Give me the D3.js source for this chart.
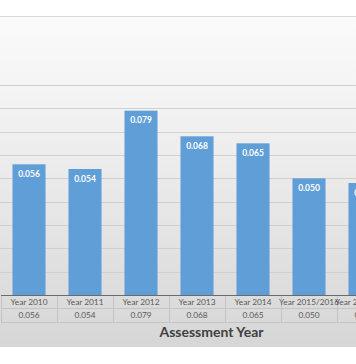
<!DOCTYPE html>
<html><head><meta charset="utf-8">
<script src="https://cdn.jsdelivr.net/npm/d3@7"></script>
<style>html,body{margin:0;padding:0;background:#fff;}svg{display:block;}</style>
</head><body>
<svg id="c" width="356" height="364"></svg>
<script>
const categories = ["Year 2010","Year 2011","Year 2012","Year 2013","Year 2014","Year 2015/2016","Year 2016/2017"];
const values = [0.056,0.054,0.079,0.068,0.065,0.050,0.048];
const valueLabels = ["0.056","0.054","0.079","0.068","0.065","0.050","0.048"];
const yTicks = [0,0.01,0.02,0.03,0.04,0.05,0.06,0.07,0.08,0.09];
const axisTitle = "Assessment Year";

const svg = d3.select("#c");
const W = 356, H = 364;
const defs = svg.append("defs");
const lg = defs.append("linearGradient").attr("id","bg")
  .attr("x1","0").attr("y1","0").attr("x2","0").attr("y2","1");
lg.append("stop").attr("offset","0").attr("stop-color","#fbfbfb");
lg.append("stop").attr("offset","0.25").attr("stop-color","#f3f3f3");
lg.append("stop").attr("offset","0.6").attr("stop-color","#e6e6e6");
lg.append("stop").attr("offset","1").attr("stop-color","#d6d6d6");

const top0 = 16, bot0 = 347;
svg.append("rect").attr("x",-1).attr("y",top0).attr("width",W+2).attr("height",bot0-top0)
  .attr("fill","url(#bg)");
svg.append("line").attr("x1",0).attr("x2",W).attr("y1",top0+0.5).attr("y2",top0+0.5)
  .attr("stroke","#d9d9d9");

const x = d3.scaleBand().domain(categories).range([1, 1+56*categories.length])
  .paddingInner(0.41).paddingOuter(0.205);
const y = d3.scaleLinear().domain([0,0.09]).range([295,85]);

// gridlines
svg.append("g").selectAll("line").data(yTicks.slice(1)).join("line")
  .attr("x1",0).attr("x2",W)
  .attr("y1",d=>Math.round(y(d))+0.5).attr("y2",d=>Math.round(y(d))+0.5)
  .attr("stroke","#d0d0d0").attr("stroke-width",1);

// bars
svg.append("g").selectAll("rect").data(values).join("rect")
  .attr("x",(d,i)=>x(categories[i]))
  .attr("width",x.bandwidth())
  .attr("y",d=>y(d))
  .attr("height",d=>y(0)-y(d))
  .attr("fill","#5f9ed7");

// value labels
svg.append("g").selectAll("text").data(values).join("text")
  .attr("x",(d,i)=>x(categories[i])+x.bandwidth()/2)
  .attr("y",d=>y(d)+12.5)
  .attr("text-anchor","middle")
  .attr("font-family","Lato, 'Open Sans', sans-serif")
  .attr("font-weight","bold")
  .attr("font-size","8.5px")
  .attr("fill","#ffffff")
  .text((d,i)=>valueLabels[i]);

// data table
const t0 = 295, t1 = 308, t2 = 322;
const tbl = svg.append("g");
const bounds = categories.map((c,i)=>x(c) - x.step()*x.paddingOuter());
bounds.push(1 + x.step()*categories.length);
tbl.append("line").attr("x1",bounds[0]).attr("x2",W).attr("y1",t1+0.5).attr("y2",t1+0.5).attr("stroke","#c4c4c4");
tbl.append("line").attr("x1",bounds[0]).attr("x2",W).attr("y1",t2+0.5).attr("y2",t2+0.5).attr("stroke","#c4c4c4");
tbl.selectAll("line.v").data(bounds).join("line").attr("class","v")
  .attr("x1",d=>Math.round(d)+0.5).attr("x2",d=>Math.round(d)+0.5)
  .attr("y1",t0).attr("y2",t2).attr("stroke","#c4c4c4");
// axis line
svg.append("line").attr("x1",bounds[0]).attr("x2",W).attr("y1",t0+0.5).attr("y2",t0+0.5)
  .attr("stroke","#6b6b6b").attr("stroke-width",1.2);

tbl.selectAll("text.c").data(categories).join("text").attr("class","c")
  .attr("x",d=>x(d)+x.bandwidth()/2).attr("y",305)
  .attr("text-anchor","middle")
  .attr("font-family","Lato, 'Open Sans', sans-serif")
  .attr("font-size","8.3px").attr("fill","#595959")
  .text(d=>d);
tbl.selectAll("text.v").data(values).join("text").attr("class","v")
  .attr("x",(d,i)=>x(categories[i])+x.bandwidth()/2).attr("y",318)
  .attr("text-anchor","middle")
  .attr("font-family","Lato, 'Open Sans', sans-serif")
  .attr("font-size","8.3px").attr("fill","#595959")
  .text((d,i)=>valueLabels[i]);

svg.append("text").attr("x",211.5).attr("y",337)
  .attr("text-anchor","middle")
  .attr("font-family","Lato, 'Open Sans', sans-serif")
  .attr("font-weight","bold").attr("font-size","14px").attr("fill","#404040")
  .text(axisTitle);
</script>
</body></html>
